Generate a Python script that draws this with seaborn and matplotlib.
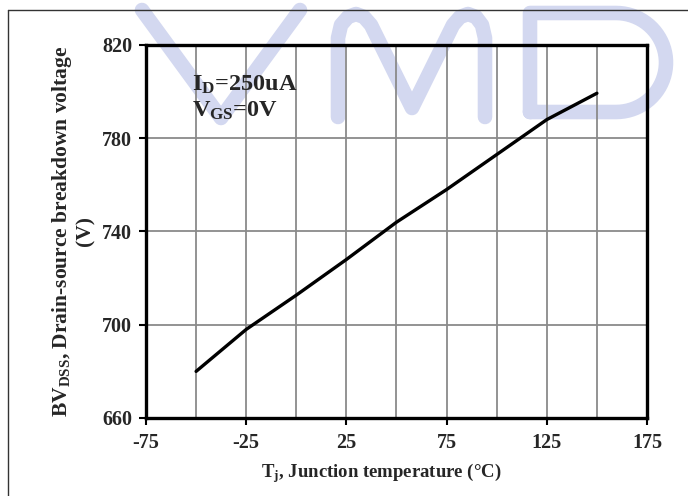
import numpy as np
import pandas as pd
import matplotlib
matplotlib.use("Agg")
import matplotlib.pyplot as plt
from matplotlib.lines import Line2D
from matplotlib.transforms import Affine2D
import seaborn as sns

# Breakdown voltage vs. junction temperature
temperature = [-50, -25, 0, 25, 50, 75, 100, 125, 150]
bv_dss = [680.0, 698.0, 712.7, 728.0, 744.0, 758.0, 773.0, 788.0, 799.3]

x_ticks = [-75, -25, 25, 75, 125, 175]
y_ticks = [660, 700, 740, 780, 820]

sns.set_style("white")
plt.rcParams["font.family"] = ["Liberation Serif", "DejaVu Serif"]
plt.rcParams["font.weight"] = "bold"
plt.rcParams["axes.unicode_minus"] = False
plt.rcParams["mathtext.fontset"] = "custom"
plt.rcParams["mathtext.rm"] = "Liberation Serif:bold"
plt.rcParams["mathtext.bf"] = "Liberation Serif:bold"
plt.rcParams["mathtext.it"] = "Liberation Serif:bold"

W, H = 688, 496
fig = plt.figure(figsize=(W / 100, H / 100), dpi=100)
fig.patch.set_facecolor("white")

# pixel (top-left origin) -> figure coordinates
px = Affine2D().scale(1 / W, -1 / H).translate(0, 1) + fig.transFigure

# light logo lettering behind the chart
wm_color = "#d3d8f0"
wm_lw = 10.5
def wm_line(xs, ys):
    fig.add_artist(Line2D(xs, ys, transform=px, color=wm_color, lw=wm_lw,
                          solid_capstyle="round", solid_joinstyle="round",
                          zorder=-5))

wm_line([142, 221, 300], [10, 118, 10])
wm_line([338, 338, 341, 348, 356, 364, 371, 412, 453, 460, 468, 476, 482, 485, 485],
        [117, 38, 25, 17, 14, 17, 25, 108, 25, 17, 14, 17, 25, 38, 117])
theta = np.linspace(np.pi / 2, -np.pi / 2, 40)
d_x = [530, 530, 616] + list(616 + 50 * np.cos(theta)) + [616, 530]
d_y = [112, 13, 13] + list(62.5 - 49.5 * np.sin(theta)) + [112, 112]
wm_line(d_x, d_y)

# outer frame lines
fig.add_artist(Line2D([8, W], [10, 10], transform=px, color="#333333", lw=1.0, zorder=-1))
fig.add_artist(Line2D([8, 8], [10, H], transform=px, color="#333333", lw=1.0, zorder=-1))

ax = fig.add_axes([146 / W, 1 - 418 / H, (647 - 146) / W, (418 - 45) / H])
ax.patch.set_alpha(0)
ax.set_zorder(1)

df = pd.DataFrame({"T": temperature, "BV": bv_dss})
sns.lineplot(data=df, x="T", y="BV", ax=ax, color="black", lw=2.4, zorder=3)

ax.set_xlim(-75, 175)
ax.set_ylim(660, 820)
ax.set_xticks(x_ticks)
ax.set_xticks(np.arange(-50, 175, 25), minor=True)
ax.set_yticks(y_ticks)
ax.grid(True, axis="x", which="both", color="#8a8a8a", lw=1.3, zorder=1)
ax.grid(True, axis="y", which="major", color="#8a8a8a", lw=1.3, zorder=1)
ax.tick_params(axis="both", which="major", direction="out", length=5, width=1.5,
               color="black", labelsize=14.5, bottom=True, left=True)
ax.tick_params(axis="x", which="major", pad=6)
ax.tick_params(axis="y", which="major", pad=5)
ax.tick_params(axis="x", which="minor", length=0)
for s in ax.spines.values():
    s.set_color("black")
    s.set_linewidth(2.4)
    s.set_zorder(4)

ax.set_xlabel(r"T$_{\mathregular{j}}$, Junction temperature (°C)", fontsize=13.5,
              fontweight="bold", labelpad=9)
ax.xaxis.set_label_coords(0.47, -0.115)
ax.set_ylabel("BV$_{\\mathregular{DSS}}$, Drain-source breakdown voltage\n(V)",
              fontsize=15.5, fontweight="bold", labelpad=5, linespacing=1.05)

ax.text(-52, 800.3, r"I$_{\mathregular{D}}$=250uA", fontsize=17.5, fontweight="bold",
        va="baseline", ha="left", zorder=5)
ax.text(-52, 789.1, r"V$_{\mathregular{GS}}$=0V", fontsize=17.5, fontweight="bold",
        va="baseline", ha="left", zorder=5)

fig.savefig("out.png", dpi=100)
